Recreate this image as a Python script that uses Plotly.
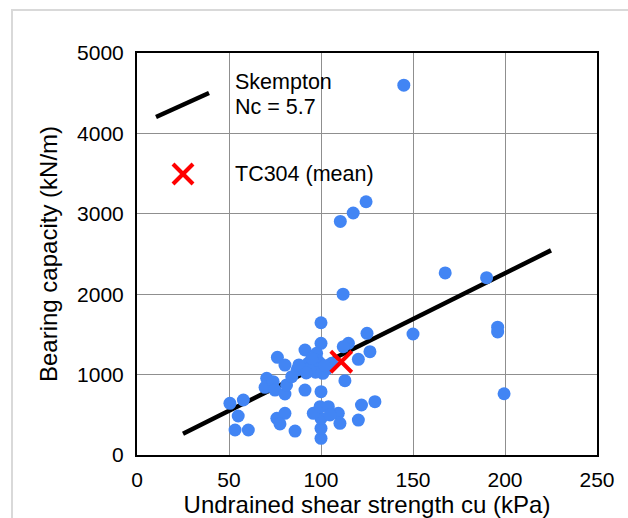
import plotly.graph_objects as go

# Data
cu_data = [100, 125, 100, 114.9, 112.1, 126.6, 120.3, 91.3, 76.3, 80.4, 97.6,
           87, 89.5, 93, 96, 99.5, 103, 101, 97, 91, 94, 105.8,
           113, 91.3, 100, 70.5, 69.6, 74, 75, 80.4, 81.3, 84.1,
           50.5, 57.8, 55, 53.3, 60.5, 76, 80.4, 77.7, 85.9,
           100, 100, 100, 95.8, 99.5, 104, 109.4, 110.3, 104.9,
           120.3, 122, 129.3,
           145, 124.5, 117.5, 110.5, 112, 167.5, 190, 150, 196, 196, 199.5,
           98, 95, 102, 88, 92]
q_data = [1645, 1513, 1389, 1389, 1347, 1285, 1190, 1306, 1215, 1119, 1265,
          1060, 1100, 1140, 1098, 1140, 1070, 1016, 1030, 1057, 1080, 1140,
          924, 808, 788, 954, 842, 912, 808, 759, 871, 974,
          643, 684, 485, 311, 311, 456, 518, 386, 298,
          207, 332, 456, 518, 601, 601, 518, 394, 498,
          435, 622, 663,
          4600, 3150, 3010, 2905, 2000, 2265, 2205, 1505, 1590, 1530, 762,
          1180, 1200, 1110, 1120, 1020]

skempton_cu = [25, 225]
skempton_q = [265, 2545]

tc304_cu = [111]
tc304_q = [1160]

x_ticks = [0, 50, 100, 150, 200, 250]
y_ticks = [0, 1000, 2000, 3000, 4000, 5000]

FONT = "Liberation Sans, Arial, sans-serif"
BLUE = "#4285F4"

fig = go.Figure()
fig.add_trace(go.Scatter(x=skempton_cu, y=skempton_q, mode="lines",
                         line=dict(color="black", width=4.5), showlegend=False,
                         hoverinfo="skip"))
fig.add_trace(go.Scatter(x=cu_data, y=q_data, mode="markers",
                         marker=dict(color=BLUE, size=13, line=dict(width=0)),
                         showlegend=False))
fig.add_trace(go.Scatter(x=tc304_cu, y=tc304_q, mode="markers",
                         marker=dict(symbol="x-thin", color="red", size=21,
                                     line=dict(color="red", width=4)),
                         showlegend=False))

# plot area geometry (px) for paper-coordinate helpers
L, R, T, B = 137, 31, 53, 63
W, H = 628, 518
PW, PH = W - L - R, H - T - B


def px(x):
    return (x - L) / PW


def py(y):
    return (H - B - y) / PH


shapes = [
    # outer light frame
    dict(type="rect", xref="paper", yref="paper", x0=px(12), x1=px(660),
         y0=py(560), y1=py(10), line=dict(color="#d9d9d9", width=2),
         fillcolor="rgba(0,0,0,0)", layer="below"),
    # legend line
    dict(type="line", xref="paper", yref="paper", x0=px(156), y0=py(117),
         x1=px(209), y1=py(93), line=dict(color="black", width=4.5)),
    # legend cross
    dict(type="line", xref="paper", yref="paper", x0=px(173), y0=py(164),
         x1=px(193), y1=py(184), line=dict(color="red", width=4)),
    dict(type="line", xref="paper", yref="paper", x0=px(173), y0=py(184),
         x1=px(193), y1=py(164), line=dict(color="red", width=4)),
]

annotations = [
    dict(text="Skempton", xref="paper", yref="paper", x=px(233), y=py(82),
         xanchor="left", yanchor="middle", showarrow=False,
         font=dict(family=FONT, size=21.5, color="black")),
    dict(text="Nc = 5.7", xref="paper", yref="paper", x=px(233), y=py(107),
         xanchor="left", yanchor="middle", showarrow=False,
         font=dict(family=FONT, size=21.5, color="black")),
    dict(text="TC304 (mean)", xref="paper", yref="paper", x=px(233), y=py(174),
         xanchor="left", yanchor="middle", showarrow=False,
         font=dict(family=FONT, size=21.5, color="black")),
]

axis_common = dict(showline=True, linecolor="black", linewidth=2, mirror=True,
                   showgrid=True, gridcolor="#8f8f8f", gridwidth=1.3,
                   zeroline=False, ticks="", automargin=False,
                   tickfont=dict(family=FONT, size=21, color="black"))

fig.update_layout(
    width=W, height=H, autosize=False,
    margin=dict(l=L, r=R, t=T, b=B, pad=0),
    paper_bgcolor="white", plot_bgcolor="white",
    shapes=shapes, annotations=annotations,
    xaxis=dict(range=[0, 250], tickvals=x_ticks, ticktext=[str(v) for v in x_ticks],
               ticklabelstandoff=5,
               title=dict(text="Undrained shear strength cu (kPa)",
                          font=dict(family=FONT, size=24, color="black"), standoff=5),
               **axis_common),
    yaxis=dict(range=[0, 5000], tickvals=y_ticks, ticktext=[str(v) for v in y_ticks],
               ticklabelstandoff=7,
               title=dict(text="Bearing capacity (kN/m)",
                          font=dict(family=FONT, size=24, color="black"), standoff=13),
               **axis_common),
)

fig.write_html("out.html")
